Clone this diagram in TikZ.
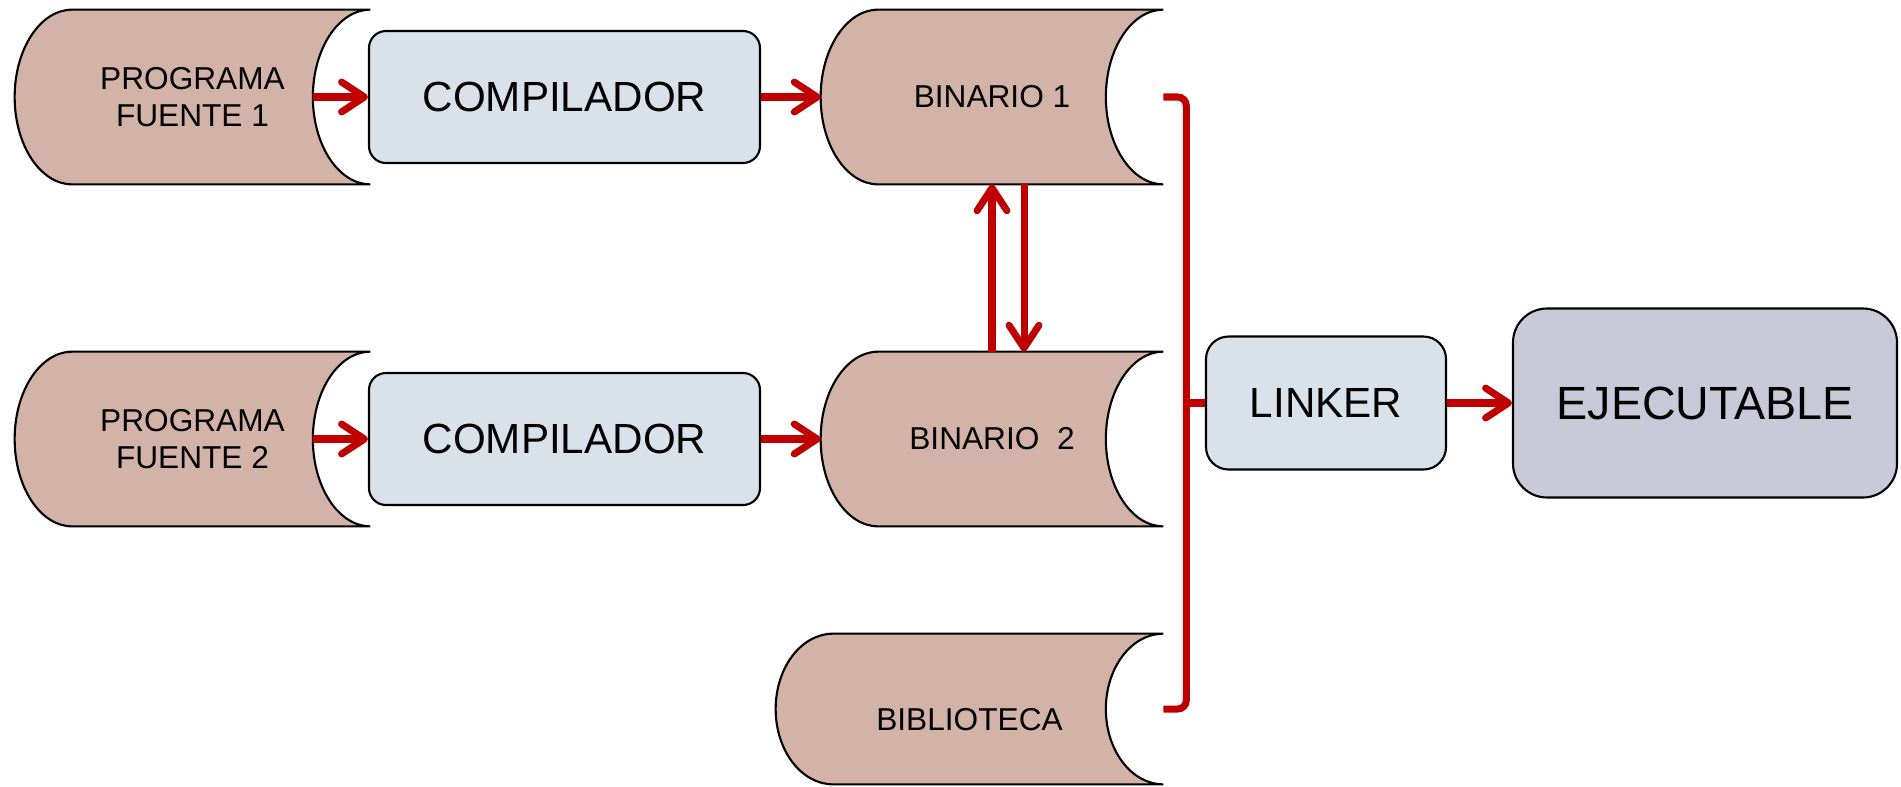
\documentclass[tikz,border=0pt]{standalone}
\usepackage{fontspec}
\setmainfont{Liberation Sans}
\usetikzlibrary{calc,arrows.meta,backgrounds}
\definecolor{storefill}{HTML}{D3B3A8}
\definecolor{procfill}{HTML}{D9E2EB}
\definecolor{exefill}{HTML}{C8CAD9}
\definecolor{arrowred}{HTML}{C00000}

\begin{document}
\begin{tikzpicture}[
  store/.style={minimum width=#1, minimum height=3.48cm, inner sep=0pt, align=center, font=\fontsize{18}{21}\selectfont},
  proc/.style={draw, line width=1.2pt, fill=procfill, rounded corners=0.34cm, minimum width=7.82cm, minimum height=2.64cm, font=\fontsize{24}{28}\selectfont},
  exe/.style={draw, line width=1.2pt, fill=exefill, rounded corners=0.68cm, minimum width=7.68cm, minimum height=3.78cm, font=\fontsize{26.5}{30}\selectfont},
  disk/.style={draw, line width=1.2pt, fill=storefill},
  flow/.style={draw=arrowred, line width=4pt, -{Straight Barb[length=13pt,width=17pt,round]}},
  link/.style={draw=arrowred, line width=4pt, rounded corners=5pt}]
\def\RX{1.15}
\useasboundingbox (0,0) rectangle (38.02,-15.72);
\node[store=7.1cm] (pf1) at (3.85,-1.94) {PROGRAMA\\FUENTE 1};
\node[store=7.1cm] (pf2) at (3.85,-8.78) {PROGRAMA\\FUENTE 2};
\node[proc] (comp1) at (11.29,-1.94) {COMPILADOR};
\node[proc] (comp2) at (11.29,-8.78) {COMPILADOR};
\node[store=6.84cm] (bin1) at (19.84,-1.94) {BINARIO 1};
\node[store=6.84cm] (bin2) at (19.84,-8.78) {BINARIO~~2};
\node[store=7.74cm, minimum height=3.0cm, text height=24pt, text depth=0pt] (bib) at (19.39,-14.18) {BIBLIOTECA};
\node[proc, minimum width=4.8cm, minimum height=2.66cm, rounded corners=0.45cm] (linker) at (26.52,-8.06) {LINKER};
\node[exe] (ejec) at (34.1,-8.06) {EJECUTABLE};
\begin{scope}[on background layer]
\fill[white] (0,0) rectangle (38.02,-15.72);
\foreach \s in {pf1,pf2,bin1,bin2,bib}
  \draw[disk] let \p1=(\s.north east), \p2=(\s.south west), \n1={(\y1-\y2)/2} in
    ({\x2+\RX cm},\y1) -- (\p1) arc[start angle=90, end angle=270, x radius=\RX cm, y radius=\n1]
    -- ({\x2+\RX cm},\y2) arc[start angle=270, end angle=90, x radius=\RX cm, y radius=\n1] -- cycle;
\end{scope}
\draw[flow] ([xshift=-\RX cm]pf1.east) -- (comp1.west);
\draw[flow] ([xshift=-\RX cm]pf2.east) -- (comp2.west);
\draw[flow] (comp1.east) -- (bin1.west);
\draw[flow] (comp2.east) -- (bin2.west);
\draw[flow] (bin2.north) -- (bin1.south);
\draw[flow] ([xshift=0.64cm]bin1.south) -- ([xshift=0.64cm]bin2.north);
\draw[link] (bin1.east) -- ++(0.46,0) |- (bib.east);
\draw[link] (linker.west) -- ++(-0.4,0);
\draw[flow] (linker.east) -- (ejec.west);
\end{tikzpicture}
\end{document}
